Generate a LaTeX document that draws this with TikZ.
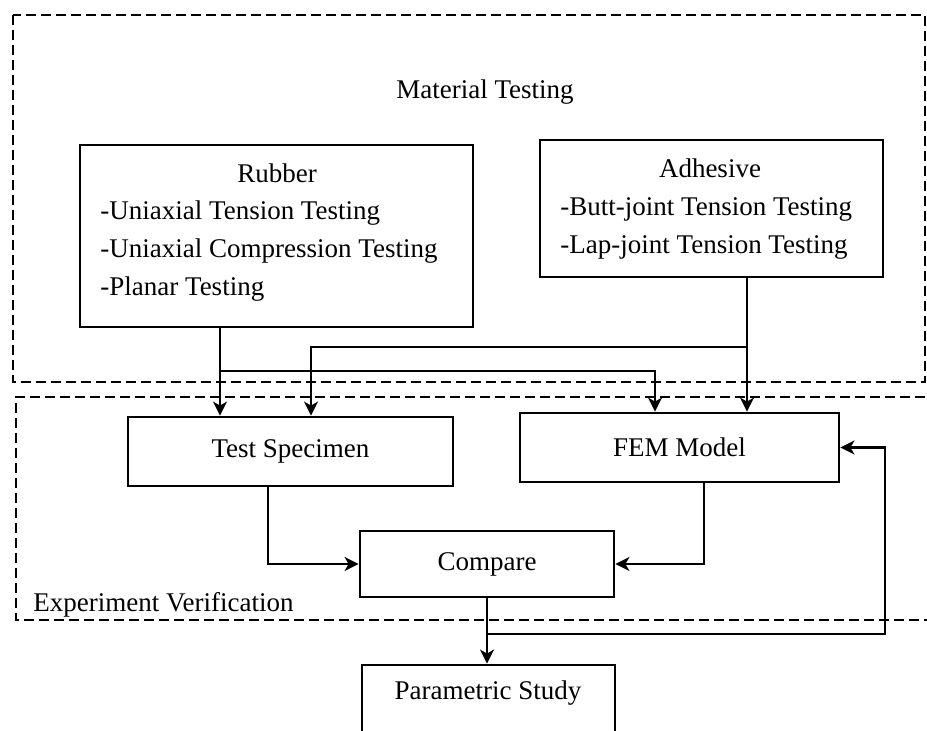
\documentclass[tikz,border=0pt]{standalone}
\usepackage{fontspec}
\setmainfont{Liberation Serif}
\usetikzlibrary{arrows.meta, calc, positioning}

\begin{document}
\begin{tikzpicture}[
  x=0.5pt, y=-0.5pt,
  font=\fontsize{13.5}{19}\selectfont,
  box/.style={draw, line width=1.4pt, inner sep=0pt},
  txt/.style={inner sep=0pt, align=left},
  region/.style={draw, dash pattern=on 5pt off 2.5pt, line width=1pt},
  wire/.style={line width=1.2pt},
  conn/.style={wire, -{Stealth[length=7pt, width=7pt, inset=2pt]}}
]
\useasboundingbox (0,0) rectangle (927,731);

% ============ REGIONS ============
\draw[region] (13,15) rectangle (925,382);
\draw[region] (940,397) -- (16,397) -- (16,620) -- (940,620);
\node[txt] (mattitle) at (485,92) {Material Testing};
\node[txt, anchor=west] (exptitle) at (33,605) {Experiment Verification};

% ============ MATERIAL TESTING ============
\node[box, minimum width=196.5pt, minimum height=91pt] (rubber) at (276.5,236) {};
\node[txt] (rubtitle) at (277,173) {Rubber};
\node[txt, anchor=west] (rublist) at (100,251)
  {-Uniaxial Tension Testing\\-Uniaxial Compression Testing\\-Planar Testing};

\node[box, minimum width=171.5pt, minimum height=68.5pt] (adhesive) at (711.5,208.5) {};
\node[txt] (adhtitle) at (710,168) {Adhesive};
\node[txt, anchor=west] (adhlist) at (560,228)
  {-Butt-joint Tension Testing\\-Lap-joint Tension Testing};

% ============ VERIFICATION ============
\node[box, minimum width=162.5pt, minimum height=34.5pt] (tspec) at (290.5,451.5) {Test Specimen};
\node[box, minimum width=159.5pt, minimum height=34.5pt] (fem) at (679.5,447.5) {FEM Model};
\node[box, minimum width=127pt, minimum height=33pt] (compare) at (487,564) {Compare};

% parametric study (box runs off the page)
\node[box, minimum width=126.5pt, minimum height=47.5pt] (param) at (488.5,712.5) {};
\node[txt] (paramtxt) at (488,693) {Parametric Study};

% drop / bus positions
\coordinate (rx) at (220,0);
\coordinate (sx) at (311,0);
\coordinate (fx) at (655,0);
\coordinate (ax) at (747,0);
\coordinate (rbus) at (0,371);
\coordinate (abus) at (0,347);
\coordinate (tx) at (268,0);
\coordinate (ex) at (704,0);
\coordinate (loop) at (885,634);

% material -> verification
\draw[conn] (rubber.south -| rx) -- (tspec.north -| rx);
\draw[conn] (rubber.south -| rx) |- (fx |- rbus) -- (fem.north -| fx);
\draw[conn] (adhesive.south -| ax) -- (fem.north -| ax);
\draw[conn] (adhesive.south -| ax) |- (sx |- abus) -- (tspec.north -| sx);

% into compare
\draw[conn] (tspec.south -| tx) |- (compare.west);
\draw[conn] (fem.south -| ex) |- (compare.east);

% compare -> parametric study, and feedback to FEM
\draw[conn] (compare.south) -- (compare.south |- param.north);
\draw[conn] (compare.south |- loop) -- (loop) |- (fem.east);

\end{tikzpicture}
\end{document}
